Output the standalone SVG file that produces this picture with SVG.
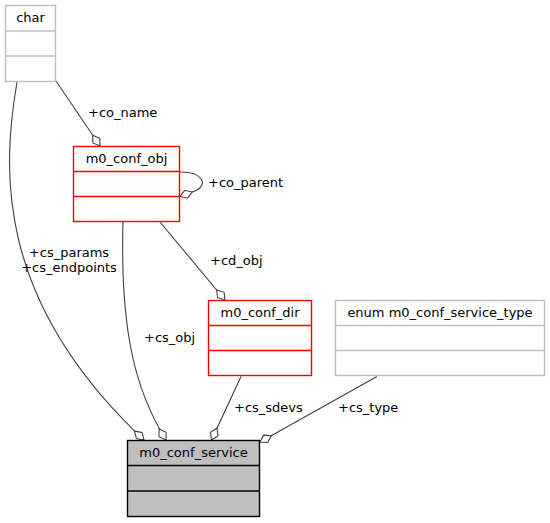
<svg xmlns="http://www.w3.org/2000/svg" width="550" height="523" viewBox="0 0 550 523">
<style>
text{font-family:"DejaVu Sans",sans-serif;font-size:13px;fill:#000}
.c{text-anchor:middle}
.gray rect,.gray line{fill:#fff;stroke:#bfbfbf;stroke-width:1.4}
.red rect,.red line{fill:#fff;stroke:#ff0000;stroke-width:1.4}
.main rect{fill:#bfbfbf;stroke:#000;stroke-width:1.4}
.main line{stroke:#000;stroke-width:1.4}
.edge{fill:none;stroke:#404040;stroke-width:1.1;marker-end:url(#dia)}
</style>
<defs>
<marker id="dia" markerUnits="userSpaceOnUse" viewBox="-1 -5 15 10" markerWidth="15" markerHeight="10" refX="13" refY="0" orient="auto">
<path d="M0,0 L6.5,-4.2 L13,0 L6.5,4.2 Z" fill="#fff" stroke="#404040" stroke-width="1.1"/>
</marker>
</defs>
<rect width="550" height="523" fill="#fff"/>
<g id="connectors">
<path class="edge" d="M56,81 L100,146"/>
<path class="edge" d="M179,172 C201,171 210,184 195,191 L180,196.5"/>
<path class="edge" d="M17,82 C2,170 -5,300 144,440"/>
<path class="edge" d="M123,222 C120,330 135,390 166,440"/>
<path class="edge" d="M160,222 L225,300"/>
<path class="edge" d="M241,376.5 L211.5,440"/>
<path class="edge" d="M377,376.5 L260,442"/>
<text x="88" y="117">+co_name</text>
<text x="208" y="187">+co_parent</text>
<text class="c" x="69" y="257">+cs_params</text>
<text class="c" x="69" y="272">+cs_endpoints</text>
<text x="144" y="342">+cs_obj</text>
<text x="210" y="265">+cd_obj</text>
<text x="234" y="412">+cs_sdevs</text>
<text x="338" y="412">+cs_type</text>
</g>
<g id="char" class="gray">
<rect x="5.5" y="5.5" width="50" height="76" stroke="#bfbfbf"/>
<line x1="5.5" y1="31" x2="55.5" y2="31"/>
<line x1="5.5" y1="56" x2="55.5" y2="56"/>
<text class="c" x="30.5" y="22">char</text>
</g>
<g id="m0_conf_obj" class="red">
<rect x="73.5" y="146.5" width="106" height="75" stroke="#ff0000"/>
<line x1="73.5" y1="171.5" x2="179.5" y2="171.5"/>
<line x1="73.5" y1="196.5" x2="179.5" y2="196.5"/>
<text class="c" x="126.5" y="163">m0_conf_obj</text>
</g>
<g id="m0_conf_dir" class="red">
<rect x="208.5" y="300.5" width="103" height="75" stroke="#ff0000"/>
<line x1="208.5" y1="325.5" x2="311.5" y2="325.5"/>
<line x1="208.5" y1="350.5" x2="311.5" y2="350.5"/>
<text class="c" x="260" y="317">m0_conf_dir</text>
</g>
<g id="m0_conf_service_type" class="gray">
<rect x="335.5" y="300.5" width="209" height="75" stroke="#bfbfbf"/>
<line x1="335.5" y1="325.5" x2="544.5" y2="325.5"/>
<line x1="335.5" y1="350.5" x2="544.5" y2="350.5"/>
<text class="c" x="440" y="317">enum m0_conf_service_type</text>
</g>
<g id="m0_conf_service" class="main">
<rect x="127.5" y="440.5" width="132" height="76" stroke="#000"/>
<line x1="127.5" y1="465.5" x2="259.5" y2="465.5"/>
<line x1="127.5" y1="491" x2="259.5" y2="491"/>
<text class="c" x="193.5" y="457">m0_conf_service</text>
</g>
</svg>
